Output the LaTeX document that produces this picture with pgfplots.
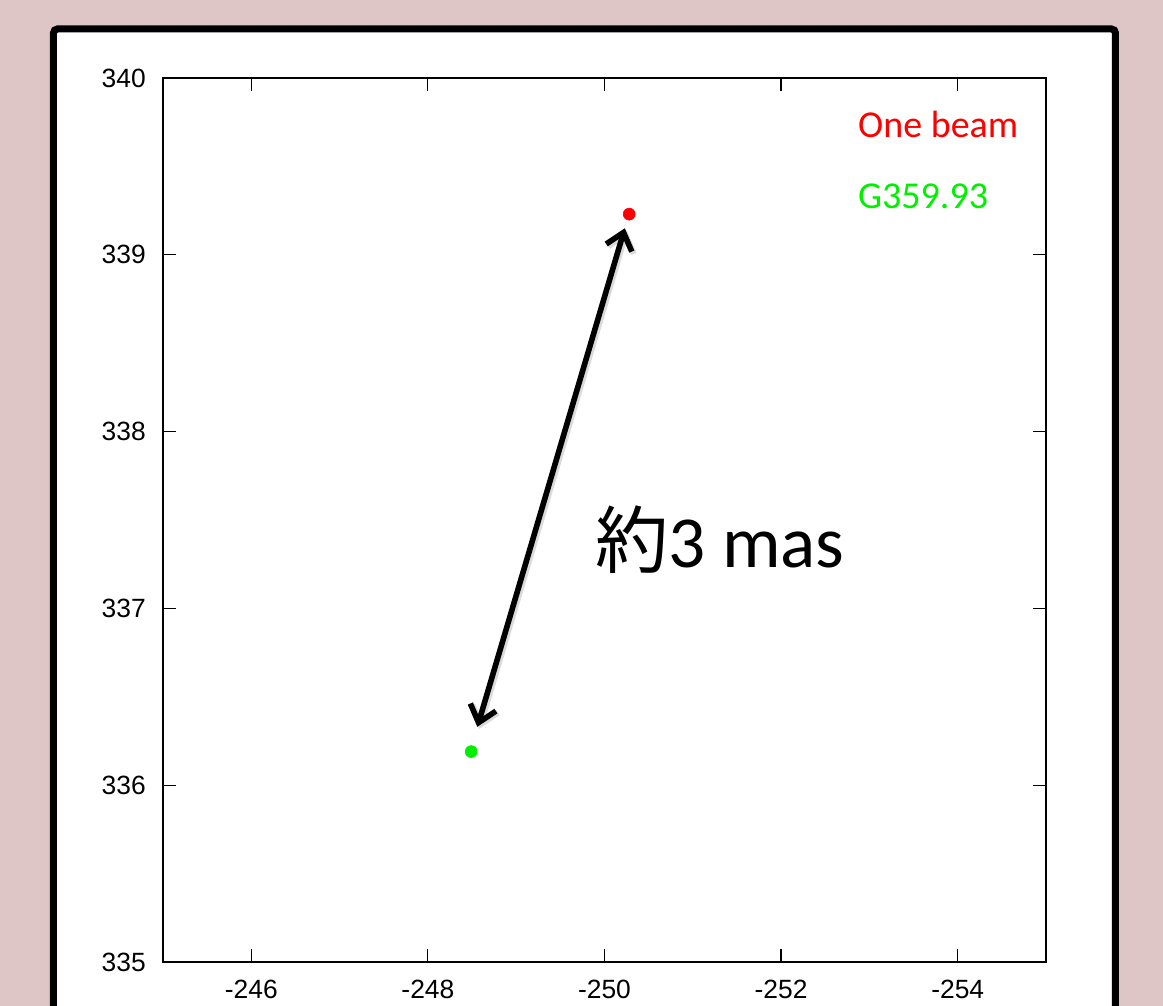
\documentclass[border=0pt]{standalone}
\usepackage{fontspec}
\setmainfont{Liberation Sans}
\newfontfamily\calfont{Carlito}
\newfontfamily\cjk{Noto Sans CJK JP}
\usepackage{pgfplots}
\pgfplotsset{compat=1.18}
\usetikzlibrary{arrows.meta}
\definecolor{bgpink}{RGB}{223,198,198}
\definecolor{myred}{RGB}{255,0,0}
\definecolor{mygreen}{RGB}{0,240,0}
\begin{document}
\begin{tikzpicture}
\useasboundingbox (0,0) rectangle (872.25pt,754.5pt);
\clip (0,0) rectangle (872.25pt,754.5pt);
\fill[bgpink] (0,0) rectangle (872.25pt,754.5pt);
\draw[line width=5.25pt, fill=white, rounded corners=3pt] (40.1pt,-20pt) rectangle (836.6pt,732.75pt);
\begin{axis}[
  at={(122.25pt,33pt)}, anchor=south west,
  scale only axis, width=662.25pt, height=663pt,
  x dir=reverse,
  xmin=-255, xmax=-245, ymin=335, ymax=340,
  xtick={-246,-248,-250,-252,-254},
  xticklabels={{-246},{-248},{-250},{-252},{-254}},
  ytick={335,336,337,338,339,340},
  yticklabels={335,336,337,338,339,340},
  tick align=inside,
  major tick length=9.75pt,
  every tick/.style={black, line width=0.9pt},
  axis line style={line width=1.3pt},
  ticklabel style={font=\fontsize{19.8}{24}\selectfont},
  yticklabel style={inner sep=0pt, xshift=-12.75pt},
  xticklabel style={inner sep=0pt, yshift=-13.5pt},
  clip=false,
]
\addplot[only marks, mark=*, mark size=4.5pt, color=myred] coordinates {(-250.28,339.23)};
\addplot[only marks, mark=*, mark size=4.5pt, color=mygreen] coordinates {(-248.49,336.19)};
\draw[black!40, opacity=0.35, line width=4.5pt, {Straight Barb[length=12pt,width=20pt]}-{Straight Barb[length=12pt,width=20pt]}]
  ([xshift=1.5pt,yshift=-1.5pt]axis cs:-248.56,336.33) -- ([xshift=1.5pt,yshift=-1.5pt]axis cs:-250.23,339.15);
\draw[black, line width=4.2pt, {Straight Barb[length=12pt,width=20pt]}-{Straight Barb[length=12pt,width=20pt]}]
  (axis cs:-248.56,336.33) -- (axis cs:-250.23,339.15);
\node[anchor=base west, inner sep=0pt, font=\fontsize{55}{62}\selectfont] at (axis cs:-249.89,337.23) {{\cjk 約}{\calfont 3 mas}};
\node[anchor=west, inner sep=0pt, text=myred, font=\calfont\fontsize{28.5}{32}\selectfont] at (axis cs:-252.87,339.74) {One beam};
\node[anchor=west, inner sep=0pt, text=mygreen, font=\calfont\fontsize{28.5}{32}\selectfont] at (axis cs:-252.87,339.33) {G359.93};
\end{axis}
\end{tikzpicture}
\end{document}
